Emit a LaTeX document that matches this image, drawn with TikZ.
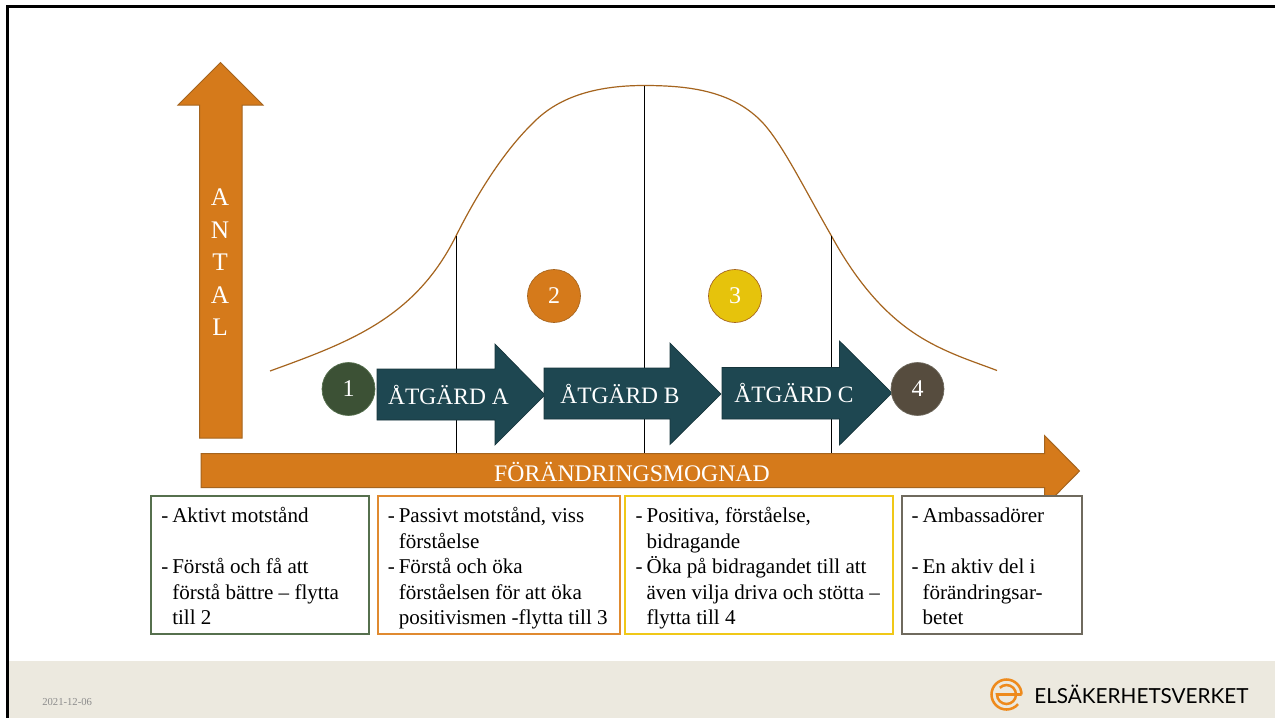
\documentclass[tikz,border=0pt]{standalone}
\usepackage{fontspec}
\setmainfont{Liberation Serif}
\newfontfamily\logofont{Lato}
\definecolor{orfill}{HTML}{D57A1B}
\definecolor{orline}{HTML}{A5641E}
\definecolor{teal}{HTML}{1E4751}
\definecolor{tealline}{HTML}{16343B}
\definecolor{greenfill}{HTML}{3C5135}
\definecolor{greenline}{HTML}{56704E}
\definecolor{yelfill}{HTML}{E6C30C}
\definecolor{brownfill}{HTML}{564C3E}
\definecolor{greyline}{HTML}{6F6A5E}
\definecolor{foot}{HTML}{ECE9DF}
\definecolor{boxor}{HTML}{E08A30}
\definecolor{boxyel}{HTML}{F0C818}
\definecolor{datecol}{HTML}{8C8C8C}
\definecolor{logoor}{HTML}{EE8A1C}
\newcommand{\ds}{\strut\makebox[8.25pt][l]{-}}
\newcommand{\ind}{\strut\hspace*{8.25pt}}
\tikzset{
  bigarrow/.style={fill=orfill,draw=orline,line width=0.75pt},
  tealarrow/.style={fill=teal,draw=tealline,line width=0.5pt},
  vline/.style={draw=black,line width=0.75pt},
  numcirc/.style={circle,minimum size=39.75pt,inner sep=0pt,line width=0.5pt,text=white,font=\fontsize{18}{20}\selectfont},
  infobox/.style={draw,fill=white,line width=0.85pt,rectangle},
  boxtext/.style={anchor=north west,align=left,inner sep=0pt,font=\fontsize{15.8}{19.1}\selectfont,text=black},
  arrowlabel/.style={text=white,font=\fontsize{17.6}{20}\selectfont,inner sep=0pt},
}
\begin{document}
\begin{tikzpicture}[x=0.75pt,y=-0.75pt]
\useasboundingbox (0,0) rectangle (1275,718);
\fill[white] (0,0) rectangle (1275,718);
% footer
\fill[foot] (8,661) rectangle (1275,718);
\fill[black] (5.5,5) rectangle (1275,8);
\fill[black] (5.5,5) rectangle (8.5,718);
% curve
\coordinate (cT) at (644,85.5);
\coordinate (vA) at (456,236);
\coordinate (vC) at (831.5,236);
\coordinate (vAb) at (456,454);
\coordinate (vBb) at (644,454);
\coordinate (vCb) at (831.5,454);
\draw[orline,line width=0.9pt] (270,371)
  .. controls (350,342) and (415,318) .. (vA)
  .. controls (476,196) and (503,152) .. (533,123)
  .. controls (560,95) and (600,85.5) .. (cT)
  .. controls (690,85.5) and (733,91) .. (763,123)
  .. controls (783,145) and (805,190) .. (vC)
  .. controls (848,266) and (875,308) .. (917,335)
  .. controls (945,353) and (975,362) .. (997,370.5);
\draw[vline] (vA) -- (vAb);
\draw[vline] (cT) -- (vBb);
\draw[vline] (vC) -- (vCb);
% axes
\draw[bigarrow] (220.5,62.5) -- (263,105) -- (242,105) -- (242,438) -- (199.5,438) -- (199.5,105) -- (178,105) -- cycle;
\node[arrowlabel,font=\fontsize{19}{24.4}\selectfont,align=center] (antal) at (220,262.5) {A\\N\\T\\A\\L};
\draw[bigarrow] (201,453.5) -- (1044.5,453.5) -- (1044.5,435.5) -- (1079.5,471) -- (1044.5,506.5) -- (1044.5,487.5) -- (201,487.5) -- cycle;
\node[arrowlabel,font=\fontsize{17.8}{20}\selectfont] (mogn) at (632,471.5) {FÖRÄNDRINGSMOGNAD};
% action arrows
\draw[tealarrow] (377,369) -- (495,369) -- (495,344) -- (545,395) -- (495,445) -- (495,420) -- (377,420) -- cycle;
\node[arrowlabel] (a) at (448.5,394.5) {ÅTGÄRD A};
\draw[tealarrow] (544,368) -- (670,368) -- (670,343) -- (721,394) -- (670,444.5) -- (670,419) -- (544,419) -- cycle;
\node[arrowlabel] (b) at (620,393.5) {ÅTGÄRD B};
\draw[tealarrow] (722,367.5) -- (839.5,367.5) -- (839.5,341) -- (892,393) -- (839.5,445) -- (839.5,419) -- (722,419) -- cycle;
\node[arrowlabel] (c) at (794,392.5) {ÅTGÄRD C};
% circles
\node[numcirc,fill=greenfill,draw=greenline] (n1) at (348.5,389) {1};
\node[numcirc,fill=orfill,draw=orline] (n2) at (554,296) {2};
\node[numcirc,fill=yelfill,draw=orline] (n3) at (735,296) {3};
\node[numcirc,fill=brownfill,draw=greyline] (n4) at (917.5,389) {4};
% boxes
\draw[infobox,draw=greenline] (151,496) rectangle (369,634);
\draw[infobox,draw=boxor] (378,496) rectangle (620,634);
\draw[infobox,draw=boxyel] (625,496) rectangle (893,634);
\draw[infobox,draw=greyline] (902,496) rectangle (1082,634);
\node[boxtext] (t1) at (161,504.5) {\ds Aktivt motstånd\\ \strut\\ \ds Förstå och få att\\ \ind förstå bättre – flytta\\ \ind till 2};
\node[boxtext] (t2) at (387.5,504.5) {\ds Passivt motstånd, viss\\ \ind förståelse\\ \ds Förstå och öka\\ \ind förståelsen för att öka\\ \ind positivismen -flytta till 3};
\node[boxtext] (t3) at (635.3,504.5) {\ds Positiva, förståelse,\\ \ind bidragande\\ \ds Öka på bidragandet till att\\ \ind även vilja driva och stötta –\\ \ind flytta till 4};
\node[boxtext] (t4) at (911.3,504.5) {\ds Ambassadörer\\ \strut\\ \ds En aktiv del i\\ \ind förändringsar-\\ \ind betet};
% footer text
\node[anchor=base west,inner sep=0pt,text=datecol,font=\fontsize{8}{10}\selectfont] (date) at (42,705) {2021-12-06};
% logo
\draw[logoor,line width=1.9pt] (1021.5,694.5) arc[start angle=0,end angle=-320,radius=15];
\draw[logoor,line width=1.9pt] (1021.5,694.5) -- (997,694.5) arc[start angle=180,end angle=-135,radius=9.5];
\node[anchor=base west,inner sep=0pt,text=black,font=\logofont\fontsize{15.55}{18}\selectfont] (logo) at (1034,703) {ELSÄKERHETSVERKET};
\end{tikzpicture}
\end{document}
